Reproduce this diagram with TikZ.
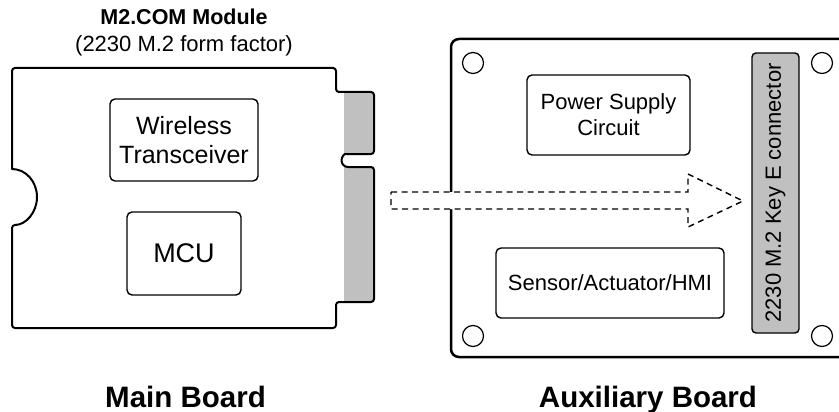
\documentclass[tikz,border=0pt]{standalone}
\usepackage{fontspec}
\setmainfont{Liberation Sans}
\definecolor{tabgray}{HTML}{C0C0C0}
\begin{document}
\begin{tikzpicture}[x=1pt,y=-1pt,
  box/.style={draw, line width=1.4pt, rounded corners=5pt, align=center, inner sep=0pt,
    font=\fontsize{22}{26}\selectfont},
  hole/.style={draw, circle, line width=1.2pt, minimum size=21pt, inner sep=0pt},
  boardline/.style={line width=2pt, line join=round},
  title/.style={font=\bfseries\fontsize{29.5}{32}\selectfont, anchor=base}
]
\useasboundingbox (0,0) rectangle (839,412);
\fill[white] (0,0) rectangle (839,412);

% ---------- Module (main board) ----------
\fill[tabgray] (344,92) rectangle (374,154);
\fill[tabgray] (344,167) rectangle (374,302);
\draw[boardline, rounded corners=3pt]
  (12,68) -- (336,68) -- (336,92) -- (374,92) -- (374,154) -- (348,154)
  [sharp corners] arc[start angle=270, end angle=90, radius=6.5]
  [rounded corners=3pt] -- (374,167) -- (374,302) -- (336,302) -- (336,328) -- (12,328) -- (12,225)
  [sharp corners] arc[start angle=90, end angle=-90, x radius=25, y radius=28]
  [rounded corners=3pt] -- cycle;

\node[font=\bfseries\fontsize{21.5}{24}\selectfont, anchor=base] (mtitle) at (184,25) {M2.COM Module};
\node[font=\fontsize{22}{26}\selectfont, anchor=base] (msub) at (184,52) {(2230 M.2 form factor)};

\node[box, minimum width=148pt, minimum height=82pt, font=\fontsize{25}{29}\selectfont] (wt) at (184,140) {Wireless\\Transceiver};
\node[box, minimum width=114pt, minimum height=83pt, font=\fontsize{27}{30}\selectfont] (mcu) at (184,253.5) {MCU};

% ---------- Auxiliary board ----------
\draw[line width=2.5pt, rounded corners=8pt] (451,39) rectangle (860,357);
\node[hole] (h1) at (473,63) {};
\node[hole] (h2) at (473,336) {};
\node[hole] (h3) at (822,63) {};
\node[hole] (h4) at (822,336) {};

\node[box, minimum width=163pt, minimum height=80pt] (ps) at (608.5,115) {Power Supply\\Circuit};
\node[box, minimum width=228pt, minimum height=70pt] (sen) at (610,283) {Sensor/Actuator/HMI};
\node[box, fill=tabgray, rounded corners=4pt, minimum width=280pt, minimum height=47pt, rotate=90] (conn) at (775.5,193) {2230 M.2 Key E connector};

% ---------- Dashed block arrow ----------
\draw[fill=white, line width=1.4pt, dash pattern=on 6pt off 4.5pt]
  (391,192) -- (688,192) -- (688,174) -- (743,201) -- (688,227) -- (688,209) -- (391,209) -- cycle;

% ---------- Labels ----------
\node[title] (lmain) at (185.5,407) {Main Board};
\node[title] (laux) at (648,407) {Auxiliary Board};
\end{tikzpicture}
\end{document}
